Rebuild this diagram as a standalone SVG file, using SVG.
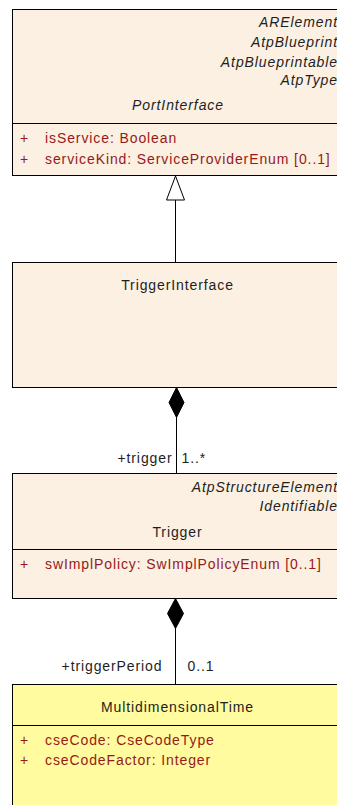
<svg xmlns="http://www.w3.org/2000/svg" width="337" height="805" viewBox="0 0 337 805">
<style>
.box{fill:#FBF0E2;stroke:#000;stroke-width:1}
.boxy{fill:#FFFB9E;stroke:#000;stroke-width:1}
.sep{stroke:#000;stroke-width:1}
text{font-family:"Liberation Sans",Arial,sans-serif;font-size:14px;letter-spacing:0.9px}
.t{fill:#1e1e1e}
.it{fill:#1e1e1e;font-style:italic}
.a{fill:#961A1A}
.ln{stroke:#000;stroke-width:1;fill:none}
</style>
<rect width="337" height="805" fill="#fff"/>
<g id="PortInterface">
<rect class="box" x="12.5" y="9.5" width="340" height="166"/>
<line class="sep" x1="12.5" y1="123.5" x2="352" y2="123.5"/>
<text class="it" x="338" y="26.5" text-anchor="end">ARElement</text>
<text class="it" x="338" y="47" text-anchor="end">AtpBlueprint</text>
<text class="it" x="338" y="66.5" text-anchor="end">AtpBlueprintable</text>
<text class="it" x="338" y="85" text-anchor="end">AtpType</text>
<text class="it" x="178" y="110" text-anchor="middle">PortInterface</text>
<text class="a" x="20" y="143">+</text>
<text class="a" x="45" y="143">isService: Boolean</text>
<text class="a" x="20" y="164">+</text>
<text class="a" x="45" y="164">serviceKind: ServiceProviderEnum [0..1]</text>
</g>
<g id="TriggerInterface">
<rect class="box" x="12.5" y="262.5" width="340" height="125"/>
<text class="t" x="177.5" y="290" text-anchor="middle">TriggerInterface</text>
</g>
<g id="Trigger">
<rect class="box" x="12.5" y="473.5" width="340" height="125"/>
<line class="sep" x1="12.5" y1="549.5" x2="352" y2="549.5"/>
<text class="it" x="338" y="491.5" text-anchor="end">AtpStructureElement</text>
<text class="it" x="338" y="511" text-anchor="end">Identifiable</text>
<text class="t" x="177.5" y="536.5" text-anchor="middle">Trigger</text>
<text class="a" x="20" y="569">+</text>
<text class="a" x="45" y="569">swImplPolicy: SwImplPolicyEnum [0..1]</text>
</g>
<g id="MultidimensionalTime">
<rect class="boxy" x="12.5" y="684.5" width="340" height="140"/>
<line class="sep" x1="12.5" y1="725.5" x2="352" y2="725.5"/>
<text class="t" x="177.5" y="711.5" text-anchor="middle">MultidimensionalTime</text>
<text class="a" x="20" y="745">+</text>
<text class="a" x="45" y="745">cseCode: CseCodeType</text>
<text class="a" x="20" y="765">+</text>
<text class="a" x="45" y="765">cseCodeFactor: Integer</text>
</g>
<g id="connectors">
<line class="ln" x1="175.5" y1="200" x2="175.5" y2="262.5"/>
<polygon points="175.5,176 166.5,200 184.5,200" fill="#fff" stroke="#000" stroke-width="1"/>
<line class="ln" x1="176.5" y1="417" x2="176.5" y2="473.5"/>
<polygon points="176.5,387.5 169,402.5 176.5,417.5 184,402.5" fill="#000" stroke="#000" stroke-width="1"/>
<text class="t" x="172.5" y="462.5" text-anchor="end">+trigger</text>
<text class="t" x="181.5" y="462.5">1..*</text>
<line class="ln" x1="175.5" y1="628" x2="175.5" y2="684.5"/>
<polygon points="175.5,598.5 167.5,613.5 175.5,628.5 183.5,613.5" fill="#000" stroke="#000" stroke-width="1"/>
<text class="t" x="162.5" y="671" text-anchor="end">+triggerPeriod</text>
<text class="t" x="187.5" y="671">0..1</text>
</g>
</svg>
